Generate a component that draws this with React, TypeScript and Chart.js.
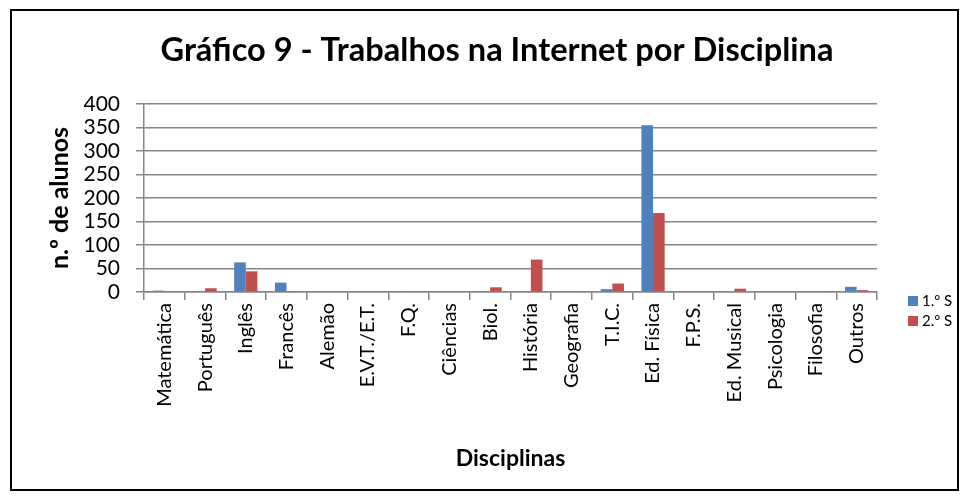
import React, { useEffect, useRef } from "react";
import { Chart, registerables } from "chart.js";

Chart.register(...registerables);

const categories = [
  "Matemática",
  "Português",
  "Inglês",
  "Francês",
  "Alemão",
  "E.V.T./E.T.",
  "F.Q.",
  "Ciências",
  "Biol.",
  "História",
  "Geografia",
  "T.I.C.",
  "Ed. Física",
  "F.P.S.",
  "Ed. Musical",
  "Psicologia",
  "Filosofia",
  "Outros",
];

const series1Label = "1.º S";
const series2Label = "2.º S";
const series1 = [3, 2, 63, 20, 0, 0, 1, 0, 0, 2, 1, 6, 355, 0, 0, 0, 0, 11];
const series2 = [0, 8, 44, 1, 0, 0, 0, 0, 10, 69, 0, 18, 168, 0, 7, 0, 0, 4];

const yMin = 0;
const yMax = 400;
const yStep = 50;

const chartTitle = "Gráfico 9 - Trabalhos na Internet por Disciplina";
const xTitle = "Disciplinas";
const yTitle = "n.º de alunos";

const FONT = "Lato, 'Open Sans', sans-serif";
const BLUE = "#4F81BD";
const RED = "#C0504D";
const GRID = "#868686";

const titleLegendPlugin = {
  id: "titleLegend",
  afterDraw(chart: any) {
    const ctx = chart.ctx;
    ctx.save();
    ctx.fillStyle = "#000";
    ctx.font = `bold 32.6px ${FONT}`;
    ctx.textAlign = "center";
    ctx.textBaseline = "alphabetic";
    ctx.fillText(chartTitle, 497, 61);

    ctx.font = `15px ${FONT}`;
    ctx.textAlign = "left";
    ctx.textBaseline = "middle";
    chart.data.datasets.forEach((ds: any, i: number) => {
      const y = 301 + i * 20;
      ctx.fillStyle = ds.backgroundColor;
      ctx.fillRect(908, y - 5, 10, 10);
      ctx.fillStyle = "#000";
      ctx.fillText(ds.label, 922, y);
    });
    ctx.restore();
  },
};

export default function App() {
  const ref = useRef<HTMLCanvasElement | null>(null);

  useEffect(() => {
    document.body.style.margin = "0";
    if (!ref.current) return;
    const chart = new Chart(ref.current, {
      type: "bar",
      data: {
        labels: categories,
        datasets: [
          {
            label: series1Label,
            data: series1,
            backgroundColor: BLUE,
            categoryPercentage: 0.571,
            barPercentage: 1,
          },
          {
            label: series2Label,
            data: series2,
            backgroundColor: RED,
            categoryPercentage: 0.571,
            barPercentage: 1,
          },
        ],
      },
      options: {
        responsive: false,
        animation: false,
        devicePixelRatio: 1,
        layout: { padding: { left: 0, top: 104, right: 91, bottom: 0 } },
        plugins: {
          legend: { display: false },
          title: { display: false },
          tooltip: { enabled: false },
        },
        scales: {
          x: {
            afterFit(scale: any) {
              scale.height = 207;
            },
            grid: {
              display: true,
              drawOnChartArea: false,
              drawTicks: true,
              tickLength: 8,
              color: GRID,
              lineWidth: 1.5,
              offset: true,
            },
            border: { display: true, color: GRID, width: 1.5 },
            ticks: {
              color: "#000",
              font: { family: FONT, size: 20 },
              maxRotation: 90,
              minRotation: 90,
              padding: 3,
              autoSkip: false,
            },
            title: {
              display: true,
              text: xTitle,
              color: "#000",
              font: { family: FONT, size: 23, weight: "bold" },
              padding: { top: 0, bottom: 27 },
            },
          },
          y: {
            min: yMin,
            max: yMax,
            afterFit(scale: any) {
              scale.width = 144;
            },
            ticks: {
              stepSize: yStep,
              autoSkip: false,
              color: "#000",
              font: { family: FONT, size: 21 },
              padding: 16,
            },
            grid: {
              color: GRID,
              lineWidth: 1.5,
              drawTicks: true,
              tickLength: 8,
            },
            border: { display: true, color: GRID, width: 1.5 },
            title: {
              display: true,
              text: yTitle,
              color: "#000",
              font: { family: FONT, size: 25, weight: "bold" },
              padding: { top: 45, bottom: 0 },
            },
          },
        },
      },
      plugins: [titleLegendPlugin],
    });
    return () => chart.destroy();
  }, []);

  return (
    <div style={{ position: "relative", width: 968, height: 499, background: "#fff" }}>
      <canvas ref={ref} width={968} height={499} style={{ position: "absolute", left: 0, top: 0 }} />
      <div
        style={{
          position: "absolute",
          left: 10,
          top: 9,
          width: 945,
          height: 478,
          border: "2px solid #000",
          pointerEvents: "none",
        }}
      />
    </div>
  );
}
